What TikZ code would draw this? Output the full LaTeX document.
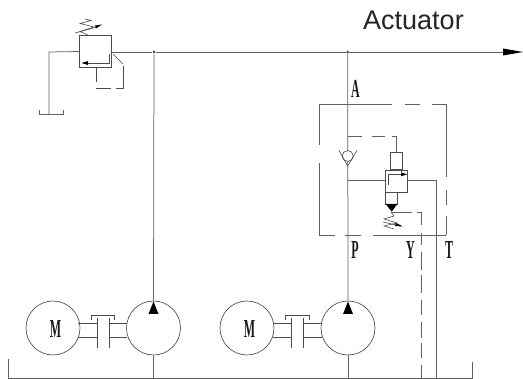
\documentclass[tikz,border=0pt]{standalone}
\usepackage{fontspec}
\setmainfont{Liberation Serif}
\newfontfamily\labelsans{Liberation Sans}
\begin{document}
\begin{tikzpicture}[x=1pt,y=-1pt,
  wire/.style={draw=black!62,line width=0.75pt},
  thin wire/.style={draw=black!70,line width=0.6pt},
  round/.style={circle,draw=black!75,line width=0.6pt,minimum size=54pt,inner sep=0pt},
  dot/.style={circle,fill=black!70,inner sep=0pt,minimum size=3pt},
  tag/.style={inner sep=0pt,font=\bfseries\fontsize{26}{26}\selectfont,xscale=0.46,text=black!90},
  solid tip/.style={fill=black,draw=none}]
\useasboundingbox (0,0) rectangle (523,379);
\fill[white] (0,0) rectangle (523,379);

% circles
\node[round] (m1) at (53,328) {};
\node[round] (p1) at (153.5,328) {};
\node[round] (m2) at (247,328) {};
\node[round] (p2) at (348,328) {};
\node[tag] at (55.5,328.5) {M};
\node[tag] at (249.5,328.5) {M};

% main line
\node[dot] (j1) at (154,52) {};
\node[dot] (j2) at (347.7,52) {};
\coordinate (out) at (523,52);
\draw[wire] (111.5,52) -- (j1) -- (j2) -- (505,52);
\fill[solid tip] (out) -- (503,48.5) -- (503,55.5) -- cycle;
\draw[wire] (j1) -- (p1.north);
\draw[wire] (j2) -- (p2.north);

% bottom tank line
\draw[wire] (8.5,359) -- (8.5,378.5) -- (472.5,378.5) -- (472.5,362);
\draw[wire] (p1.south) -- (153.5,378.5);
\draw[wire] (p2.south) -- (348,378.5);

% pump triangles
\fill[solid tip] (153.5,301.5) -- (148.5,314) -- (158.5,314) -- cycle;
\fill[solid tip] (348,301.5) -- (343,314) -- (353,314) -- cycle;

% couplings
\foreach \a/\b/\ma/\pa in {97.5/109/m1/p1, 291.6/303.7/m2/p2}{
  \draw[thin wire] (\a,318) -- (\a,348);
  \draw[thin wire] (\b,318) -- (\b,348);
  \draw[thin wire] (\a-6,320) -- (\a-6,315) -- (\b+5.5,315) -- (\b+5.5,320);
}
\draw[thin wire] (78,323) -- (97.5,323) (78,337.5) -- (97.5,337.5);
\draw[thin wire] (109,323) -- (127,323) (109,337.5) -- (127,337.5);
\draw[thin wire] (272.5,323) -- (291.6,323) (272.5,337.5) -- (291.6,337.5);
\draw[thin wire] (303.7,323) -- (321.5,323) (303.7,337.5) -- (321.5,337.5);

% relief valve
\node[draw=black!70,line width=0.7pt,minimum width=32pt,minimum height=32pt,inner sep=0pt] (rv) at (95.5,51.5) {};
\draw[wire] (rv.west) -- (49,52) -- (49,114.5);
\draw[wire] (39.5,110) -- (39.5,114.5) -- (63,114.5) -- (63,110);
\draw[thin wire] (109,54) -- (109,63) -- (84,63);
\fill[solid tip] (81.5,63) -- (88,61) -- (88,65) -- cycle;
\draw[thin wire] (96,67) -- (96,82);
\draw[thin wire] (96,88) -- (111,88) (116,88) -- (123.5,88) -- (123.5,66);
\draw[thin wire] (123,64) -- (113,54);
\draw[thin wire] (89,35.5) -- (80,31.5) -- (94,27) -- (80,23.5) -- (91,20.5) -- (85,19);
\draw[thin wire] (75,33) -- (97,27);
\fill[solid tip] (102,24.5) -- (95,25.5) -- (96,28.5) -- cycle;

% pilot valve block: dashed envelope
\draw[wire] (319,145) -- (319,104) -- (392,104);
\draw[wire] (405,104) -- (420,104) (432,104) -- (446,104) -- (446,177);
\draw[wire] (446,190) -- (446,205) (446,216) -- (446,235);
\draw[wire] (446,235) -- (373,235) (361,235) -- (345,235) (335,235) -- (319,235) -- (319,163);

% pilot branch from the stem
\draw[wire] (347.7,136.7) -- (362,136.7) (372,136.7) -- (385,136.7) (392,136.7) -- (396,136.7) -- (396,153);

% check valve
\node[circle,draw=black!75,line width=0.6pt,minimum size=11pt,inner sep=0pt,fill=white] (cv) at (347.7,156) {};
\draw[thin wire] (339,150.5) -- (347.7,166) -- (357,150.5);

% valve stack
\node[draw=black!70,line width=0.7pt,minimum width=11.7pt,minimum height=17pt,inner sep=0pt,anchor=south] (pil) at (396,170) {};
\node[draw=black!70,line width=0.7pt,minimum width=22.4pt,minimum height=21.7pt,inner sep=0pt,anchor=north] (vb) at (396.5,170) {};
\node[draw=black!70,line width=0.7pt,minimum width=12.2pt,minimum height=12.3pt,inner sep=0pt,anchor=north] (sb) at (391.4,191.7) {};
\draw[thin wire] (388.3,185) -- (388.3,174.3) -- (404,174.3);
\fill[solid tip] (407,174.3) -- (401,172.3) -- (401,176.3) -- cycle;
\draw[thin wire] (401.7,170) -- (401.7,174.3);
\fill[solid tip] (385.7,204) -- (397.3,204) -- (391.7,211.7) -- cycle;
\draw[wire] (347.7,180.7) -- (vb.west |- 347.7,180.7);
\draw[wire] (407.7,180.7) -- (436.5,180.7) -- (436.5,378.5);

% pressure adjust spring
\draw[thin wire] (391,212) -- (394,216) -- (384,219) -- (397,223) -- (384,226) -- (394,229);
\draw[thin wire] (383,222) -- (396,225) -- (401,226);
\fill[solid tip] (403,226.5) -- (396,223) -- (395,226) -- cycle;

% drain (Y) line
\draw[wire] (391.7,212.3) -- (412,212.3) (417,212.3) -- (421.5,212.3) -- (421.5,225);
\foreach \s/\e in {233/245, 252/270, 275/293, 300/315, 322/338, 343/358, 365/378.5}
  \draw[wire] (421.5,\s) -- (421.5,\e);

% texts
\node[inner sep=0pt,font=\labelsans\fontsize{27}{28}\selectfont,text=black!85,anchor=base west] at (363,30) {Actuator};
\node[tag] at (355.5,89) {A};
\node[tag] at (355,250) {P};
\node[tag] at (410.5,250) {Y};
\node[tag] at (449,250) {T};
\end{tikzpicture}
\end{document}
